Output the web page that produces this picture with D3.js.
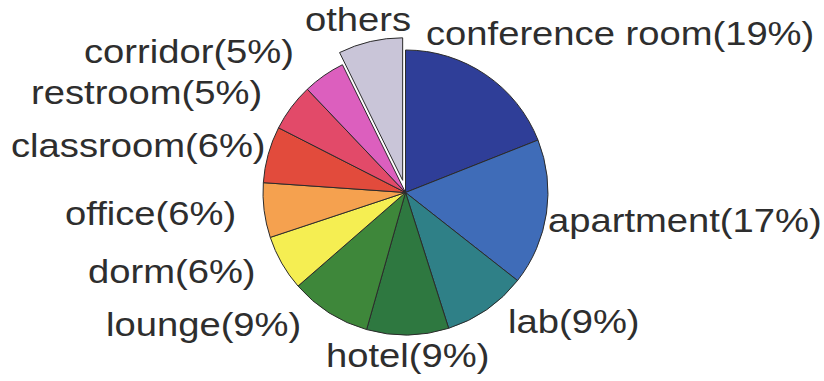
<!DOCTYPE html>
<html>
<head>
<meta charset="utf-8">
<script src="https://cdn.jsdelivr.net/npm/d3@7"></script>
<style>
  html, body { margin: 0; padding: 0; background: #fff; }
  svg { display: block; }
</style>
</head>
<body>
<svg id="chart" width="824" height="381"></svg>
<script>
// Share of occurrences by location type (percent), clockwise from 12 o'clock
const categories = ["conference room", "apartment", "lab", "hotel", "lounge", "dorm",
                    "office", "classroom", "restroom", "corridor", "others"];
const shares = [19.0, 16.6, 9.5, 9.3, 9.2, 6.3, 6.2, 6.4, 5.4, 4.8, 7.3];
const showPercent = [true, true, true, true, true, true, true, true, true, true, false];

// Slice colours
const sliceColors = ["#2f3e98", "#3f6cb8", "#2f8087", "#2e7840", "#3e873a", "#f5ee52",
                     "#f5a14f", "#e24b3c", "#e24a69", "#dc5fbe", "#c9c5d8"];

// Label anchor points (left end of text, baseline)
const labelAt = [[426, 45], [548, 232], [508, 333], [326, 367], [106, 336], [88, 283],
                 [65, 225], [11, 157], [31, 104], [84, 63], [305, 31]];

const cx = 405.5, cy = 192.5, radius = 142.5, explode = 12.5;

const svg = d3.select("#chart");

const pie = d3.pie().sort(null).value(d => d.value);
const arc = d3.arc().innerRadius(0).outerRadius(radius);

const data = categories.map((name, i) => ({
  name, value: shares[i], color: sliceColors[i], pct: showPercent[i]
}));
const total = d3.sum(shares);
const arcs = pie(data);

const g = svg.append("g").attr("transform", `translate(${cx},${cy})`);

g.selectAll("path.slice")
  .data(arcs)
  .join("path")
  .attr("class", "slice")
  .attr("d", arc)
  .attr("fill", d => d.data.color)
  .attr("stroke", "#2b2b2b")
  .attr("stroke-width", 1)
  .attr("stroke-linejoin", "round")
  .attr("transform", d => {
    if (d.data.name !== "others") return null;
    const mid = (d.startAngle + d.endAngle) / 2;
    return `translate(${explode * Math.sin(mid)},${-explode * Math.cos(mid)})`;
  });

svg.selectAll("text.label")
  .data(arcs)
  .join("text")
  .attr("class", "label")
  .attr("transform", (d, i) => `translate(${labelAt[i][0]},${labelAt[i][1]}) scale(1.14,1)`)
  .attr("font-family", "'Liberation Sans', Arial, Helvetica, sans-serif")
  .attr("font-size", 33.5)
  .attr("fill", "#2e2e2e")
  .text(d => d.data.pct
    ? `${d.data.name}(${Math.round(d.data.value / total * 100)}%)`
    : d.data.name);
</script>
</body>
</html>
